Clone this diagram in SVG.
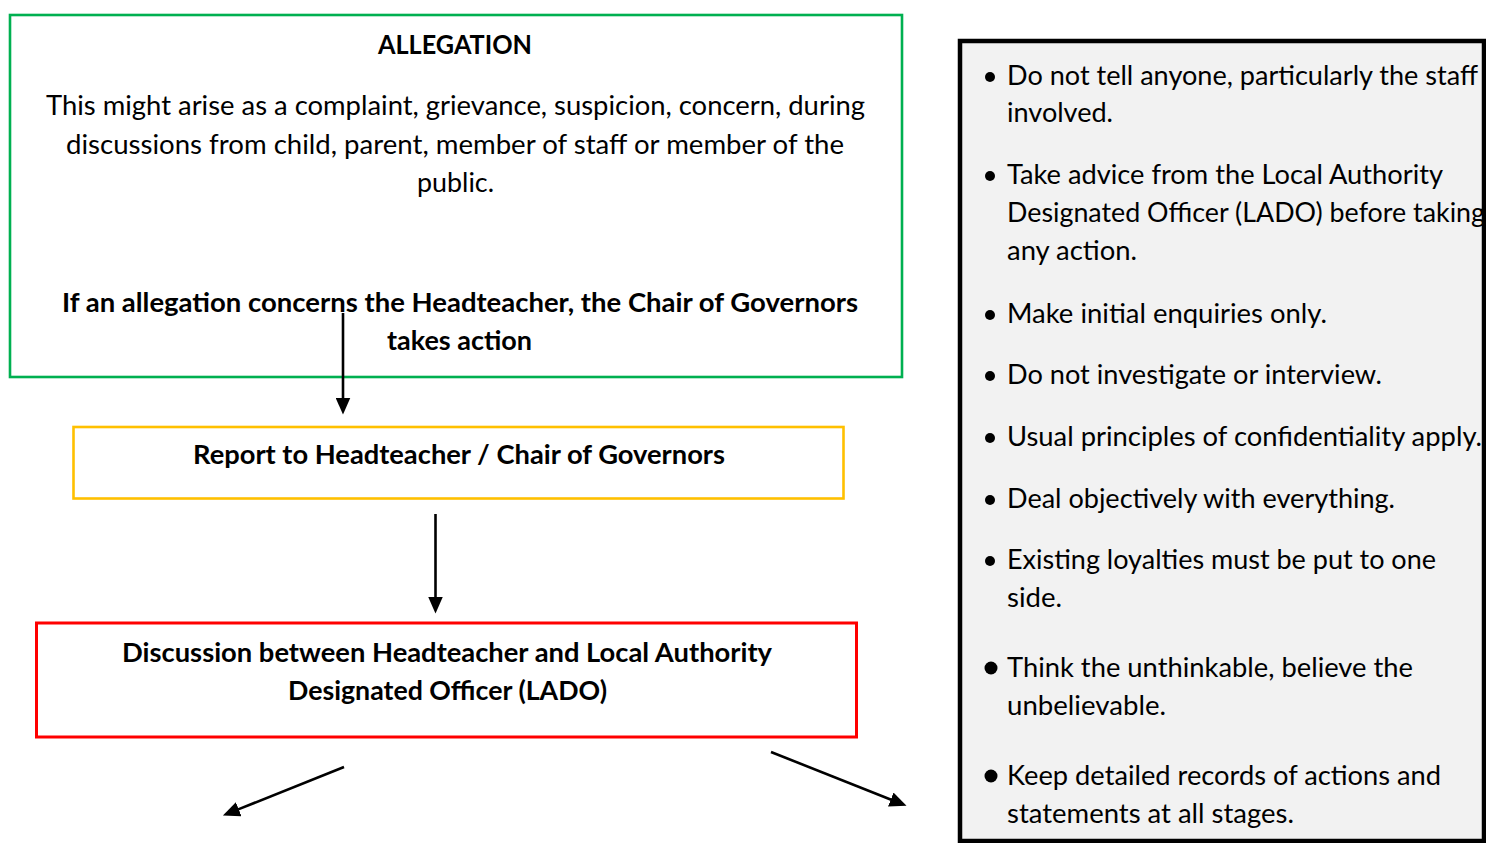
<svg xmlns="http://www.w3.org/2000/svg" width="1486" height="843" viewBox="0 0 1486 843">
<defs>
<style>
.t{font-family:Lato,"Open Sans","Liberation Sans",sans-serif;font-size:27px;fill:#000;}
.b{font-weight:bold;}
.conn{stroke:#000;stroke-width:2.6;fill:none;marker-end:url(#ah);}
.bul{fill:#000;}
</style>
<marker id="ah" viewBox="0 0 17 15" markerUnits="userSpaceOnUse" markerWidth="17" markerHeight="15" refX="0.5" refY="7.5" orient="auto">
<path d="M0,0 L17,7.5 L0,15 z" fill="#000"/>
</marker>
</defs>
<rect width="1486" height="843" fill="#fff"/>

<g id="allegation">
<rect x="10" y="15" width="892" height="362" fill="#fff" stroke="#00B050" stroke-width="2.6"/>
<text class="t b" x="378" y="54" textLength="154" lengthAdjust="spacingAndGlyphs">ALLEGATION</text>
<text class="t" x="46" y="115" textLength="819" lengthAdjust="spacingAndGlyphs">This might arise as a complaint, grievance, suspicion, concern, during</text>
<text class="t" x="66" y="154" textLength="778" lengthAdjust="spacingAndGlyphs">discussions from child, parent, member of staff or member of the</text>
<text class="t" x="417" y="192" textLength="77" lengthAdjust="spacingAndGlyphs">public.</text>
<text class="t b" x="62" y="312" textLength="796" lengthAdjust="spacingAndGlyphs">If an allegation concerns the Headteacher, the Chair of Governors</text>
<text class="t b" x="387" y="350" textLength="145" lengthAdjust="spacingAndGlyphs">takes action</text>
</g>

<g id="report">
<rect x="73.5" y="427" width="770" height="71.5" fill="#fff" stroke="#FFC000" stroke-width="2.6"/>
<text class="t b" x="193" y="464" textLength="532" lengthAdjust="spacingAndGlyphs">Report to Headteacher / Chair of Governors</text>
</g>

<g id="discussion">
<rect x="36.5" y="623" width="820" height="114" fill="#fff" stroke="#FF0000" stroke-width="3"/>
<text class="t b" x="122" y="662" textLength="650" lengthAdjust="spacingAndGlyphs">Discussion between Headteacher and Local Authority</text>
<text class="t b" x="288" y="700" textLength="319" lengthAdjust="spacingAndGlyphs">Designated Officer (LADO)</text>
</g>

<g id="guidance">
<rect x="960" y="41" width="524" height="800" fill="#F2F2F2" stroke="#000" stroke-width="4.5"/>
<circle class="bul" cx="990" cy="77" r="5"/>
<text class="t" x="1007" y="85" textLength="471" lengthAdjust="spacingAndGlyphs">Do not tell anyone, particularly the staff</text>
<text class="t" x="1007" y="122" textLength="106" lengthAdjust="spacingAndGlyphs">involved.</text>
<circle class="bul" cx="990" cy="176" r="5"/>
<text class="t" x="1007" y="184" textLength="436" lengthAdjust="spacingAndGlyphs">Take advice from the Local Authority</text>
<text class="t" x="1007" y="222" textLength="478" lengthAdjust="spacingAndGlyphs">Designated Officer (LADO) before taking</text>
<text class="t" x="1007" y="260" textLength="130" lengthAdjust="spacingAndGlyphs">any action.</text>
<circle class="bul" cx="990" cy="315" r="5"/>
<text class="t" x="1007" y="323" textLength="320" lengthAdjust="spacingAndGlyphs">Make initial enquiries only.</text>
<circle class="bul" cx="990" cy="376" r="5"/>
<text class="t" x="1007" y="384" textLength="375" lengthAdjust="spacingAndGlyphs">Do not investigate or interview.</text>
<circle class="bul" cx="990" cy="438" r="5"/>
<text class="t" x="1007" y="446" textLength="475" lengthAdjust="spacingAndGlyphs">Usual principles of confidentiality apply.</text>
<circle class="bul" cx="990" cy="500" r="5"/>
<text class="t" x="1007" y="508" textLength="388" lengthAdjust="spacingAndGlyphs">Deal objectively with everything.</text>
<circle class="bul" cx="990" cy="561" r="5"/>
<text class="t" x="1007" y="569" textLength="429" lengthAdjust="spacingAndGlyphs">Existing loyalties must be put to one</text>
<text class="t" x="1007" y="607" textLength="55" lengthAdjust="spacingAndGlyphs">side.</text>
<circle class="bul" cx="991" cy="668" r="6.5"/>
<text class="t" x="1007" y="677" textLength="406" lengthAdjust="spacingAndGlyphs">Think the unthinkable, believe the</text>
<text class="t" x="1007" y="715" textLength="159" lengthAdjust="spacingAndGlyphs">unbelievable.</text>
<circle class="bul" cx="991" cy="776" r="6.5"/>
<text class="t" x="1007" y="785" textLength="434" lengthAdjust="spacingAndGlyphs">Keep detailed records of actions and</text>
<text class="t" x="1007" y="823" textLength="287" lengthAdjust="spacingAndGlyphs">statements at all stages.</text>
</g>

<g id="connectors">
<line class="conn" x1="343" y1="313" x2="343" y2="398"/>
<line class="conn" x1="435.5" y1="514" x2="435.5" y2="597"/>
<line class="conn" x1="344" y1="767" x2="238.2" y2="809.4"/>
<line class="conn" x1="771" y1="752" x2="891.2" y2="799.7"/>
</g>
</svg>
